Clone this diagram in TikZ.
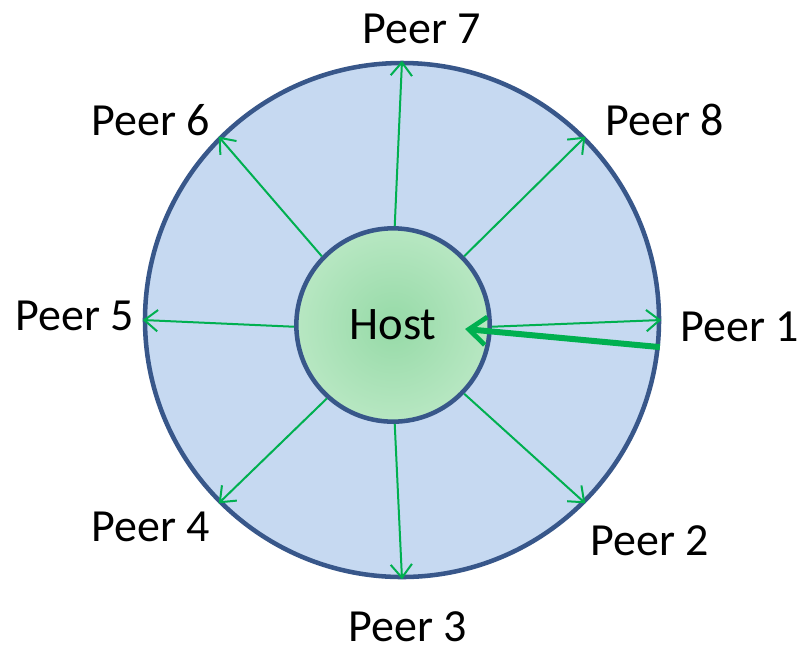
\documentclass[tikz,border=0pt]{standalone}
\usepackage{fontspec}
\setmainfont{Carlito}
\usetikzlibrary{arrows.meta}
\definecolor{ringline}{RGB}{56,87,138}
\definecolor{ringfill}{RGB}{198,217,241}
\definecolor{linkgreen}{RGB}{0,176,80}
\definecolor{hostcore}{RGB}{150,218,167}
\definecolor{hostedge}{RGB}{214,243,219}
\pgfdeclareradialshading{hostglow}{\pgfpoint{0bp}{0bp}}{%
  color(0bp)=(hostcore); color(48bp)=(hostedge); color(50bp)=(hostedge)}
\tikzset{
  ring/.style={circle, draw=ringline, fill=ringfill, line width=3.4pt,
    minimum size=385.5pt, inner sep=0pt},
  hostdisc/.style={circle, draw=ringline, line width=3.4pt, shading=hostglow,
    minimum size=145pt, inner sep=0pt, font=\fontsize{35}{40}\selectfont},
  peerlabel/.style={inner sep=0pt, font=\fontsize{34.5}{40}\selectfont},
  link/.style={draw=linkgreen, line width=1.5pt,
    -{Straight Barb[length=10pt, width=16pt, line width=1.5pt]}},
  request/.style={draw=linkgreen, line width=4.5pt,
    -{Straight Barb[length=13pt, width=21pt, line width=3.6pt]}}
}
\begin{document}
\begin{tikzpicture}[x=0.75pt, y=-0.75pt]
  \useasboundingbox (0,0) rectangle (805,651);

  % rings
  \node[ring] (ring) at (402,320) {};
  \node[hostdisc] (host) at (393,325) {Host};

  % peer labels
  \node[peerlabel] (p1) at (740,327) {Peer 1};
  \node[peerlabel] (p2) at (650,541) {Peer 2};
  \node[peerlabel] (p3) at (408,627) {Peer 3};
  \node[peerlabel] (p4) at (151,527) {Peer 4};
  \node[peerlabel] (p5) at (75,316)  {Peer 5};
  \node[peerlabel] (p6) at (151,120) {Peer 6};
  \node[peerlabel] (p7) at (422,29)  {Peer 7};
  \node[peerlabel] (p8) at (665,120) {Peer 8};

  % broadcast links from the host to every peer
  \draw[link] (host.-1)   -- (ring.0);
  \draw[link] (host.-44)  -- (ring.-45);
  \draw[link] (host.-89)  -- (ring.-90);
  \draw[link] (host.-132) -- (ring.-135);
  \draw[link] (host.181)  -- (ring.180);
  \draw[link] (host.136)  -- (ring.135);
  \draw[link] (host.89)   -- (ring.90);
  \draw[link] (host.44)   -- (ring.45);

  % request from peer 1 into the host
  \coordinate (hit) at (465,329);
  \draw[request] (ring.-6.4) -- (hit);
\end{tikzpicture}
\end{document}
